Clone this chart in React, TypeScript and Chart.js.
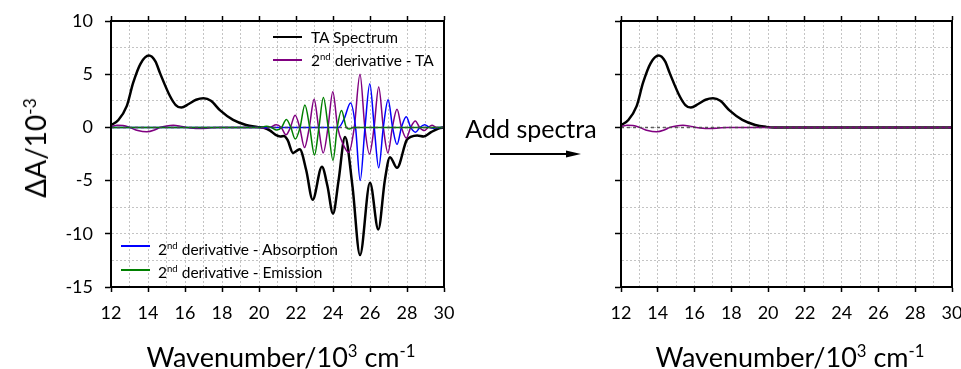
import React, { useEffect, useRef } from "react";
import { Chart, registerables } from "chart.js";

Chart.register(...registerables);

const FONT = "Lato, 'Open Sans', 'DejaVu Sans', sans-serif";

// ---- axes ----
const xMin = 12;
const xMax = 30;
const yMin = -15;
const yMax = 10;
const xTickLabels = [12, 14, 16, 18, 20, 22, 24, 26, 28, 30];
const yTickLabels = [-15, -10, -5, 0, 5, 10];

// ---- left panel: TA spectrum ----
const taX = [12.0, 12.4, 12.85, 13.2, 13.6, 14.05, 14.4, 14.65, 15.2, 15.5, 15.8, 16.2, 16.6, 17.0, 17.4, 17.9, 18.6, 19.3, 19.9, 20.3, 20.6, 20.9, 21.15, 21.35, 21.55, 21.84, 22.2, 22.55, 22.9, 23.4, 23.7, 24.0, 24.3, 24.65, 25.05, 25.46, 26.0, 26.45, 26.8, 27.08, 27.46, 27.98, 28.2, 28.55, 28.9, 29.3, 29.7, 30.0];
const taY = [0.2, 0.7, 2.0, 4.2, 6.0, 6.75, 6.2, 5.1, 2.9, 2.1, 1.86, 2.2, 2.6, 2.74, 2.5, 1.6, 0.7, 0.23, 0.05, -0.05, -0.3, -0.7, -0.85, -0.8, -1.2, -2.4, -2.05, -4.0, -6.8, -3.7, -5.5, -8.1, -5.0, -0.9, -5.5, -12.0, -5.2, -9.6, -5.0, -2.8, -3.8, -1.2, -0.9, -0.75, -0.85, -0.45, -0.1, 0.0];

// 2nd derivative of TA
const d2TaX = [12.0, 12.35, 12.65, 13.0, 13.45, 13.93, 14.35, 14.65, 15.0, 15.37, 15.75, 16.1, 16.7, 17.2, 17.8, 20.0, 20.3, 20.6, 20.93, 21.2, 21.46, 21.7, 21.95, 22.2, 22.46, 22.72, 22.98, 23.22, 23.47, 23.73, 23.99, 24.25, 24.55, 24.85, 25.15, 25.46, 25.72, 25.97, 26.22, 26.47, 26.72, 26.97, 27.21, 27.46, 27.7, 27.96, 28.2, 28.45, 28.68, 28.94, 29.15, 29.35, 29.6, 30];
const d2TaY = [0.1, 0.2, 0.17, 0, -0.3, -0.42, -0.25, 0, 0.14, 0.2, 0.12, 0, -0.1, -0.08, 0, 0, -0.05, 0, 0.25, 0, -0.7, 0, 1.15, 0, -1.9, 0, 2.65, 0, -2.4, 0, 3.35, 0, -1.6, -2.35, 0, 5.0, 0, -2.5, 0, 3.8, 0, -2.4, 0, 1.7, 0, -1.0, 0, 0.6, 0, -0.3, 0, 0.2, 0, 0];

// 2nd derivative of absorption
const d2AbsX = [12, 24.3, 24.6, 24.95, 25.22, 25.47, 25.73, 25.99, 26.23, 26.47, 26.72, 26.98, 27.22, 27.46, 27.7, 27.96, 28.2, 28.46, 28.7, 28.96, 29.2, 29.45, 29.7, 30];
const d2AbsY = [0, 0, 0.8, 2.3, 0, -5.0, 0, 4.1, 0, -3.8, 0, 2.6, 0, -1.6, 0, 1.0, 0, -0.45, 0, 0.25, 0, -0.08, 0, 0];

// 2nd derivative of emission
const d2EmX = [12, 20.0, 20.4, 20.65, 20.95, 21.22, 21.48, 21.72, 21.96, 22.22, 22.48, 22.74, 23.0, 23.24, 23.48, 23.74, 24.0, 24.23, 24.46, 24.72, 24.88, 25.1, 30];
const d2EmY = [0, 0, 0.1, 0, -0.25, 0, 0.75, 0, -1.1, 0, 2.1, 0, -2.6, 0, 2.8, 0, -3.1, 0, 1.6, 0, -0.15, 0, 0];

// ---- right panel: after adding spectra ----
const esaX = [12.0, 12.4, 12.85, 13.2, 13.6, 14.05, 14.4, 14.65, 15.2, 15.5, 15.8, 16.2, 16.6, 17.0, 17.4, 17.9, 18.6, 19.3, 19.9, 20.3, 30.0];
const esaY = [0.2, 0.7, 2.0, 4.2, 6.0, 6.75, 6.2, 5.1, 2.9, 2.1, 1.86, 2.2, 2.6, 2.74, 2.5, 1.6, 0.7, 0.23, 0.05, 0.0, 0.0];
const d2EsaX = [12.0, 12.35, 12.65, 13.0, 13.45, 13.93, 14.35, 14.65, 15.0, 15.37, 15.75, 16.1, 16.7, 17.2, 17.8, 30];
const d2EsaY = [0.1, 0.2, 0.17, 0, -0.3, -0.42, -0.25, 0, 0.14, 0.2, 0.12, 0, -0.1, -0.08, 0, 0];

const zeroX = [12, 30];
const zeroY = [0, 0];

const pts = (xs: number[], ys: number[]) => xs.map((x, i) => ({ x, y: ys[i] }));

const line = (label: string, xs: number[], ys: number[], color: string, width: number, dash: number[] = []) => ({
  label,
  data: pts(xs, ys),
  borderColor: color,
  backgroundColor: color,
  borderWidth: width,
  borderDash: dash,
  pointRadius: 0,
  fill: false,
  cubicInterpolationMode: "monotone" as const,
});

function makeOptions(yAxisWidth: number, rightPad: number, showYLabels: boolean) {
  const tickFont = { family: FONT, size: 18 };
  return {
    animation: false as const,
    responsive: false,
    devicePixelRatio: 1,
    layout: { padding: { top: 21, right: rightPad, left: 0, bottom: 0 } },
    plugins: { legend: { display: false }, tooltip: { enabled: false } },
    scales: {
      x: {
        type: "linear" as const,
        position: "bottom" as const,
        min: xMin,
        max: xMax,
        ticks: {
          stepSize: 1,
          autoSkip: false,
          maxRotation: 0,
          padding: 10,
          color: "#000",
          font: tickFont,
          callback: (v: any) => (xTickLabels.includes(Number(v)) ? String(v) : ""),
        },
        grid: {
          color: "#c4c4c4",
          lineWidth: 1,
          tickLength: 5,
          tickWidth: 1.5,
          tickColor: (c: any) => (c.tick && xTickLabels.includes(c.tick.value) ? "#000" : "rgba(0,0,0,0)"),
          tickBorderDash: [],
        },
        border: { display: true, color: "#000", width: 2, dash: [2, 2], z: 1 },
        afterFit: (s: any) => {
          s.height = 82;
          s.paddingLeft = 0;
          s.paddingRight = 0;
        },
      },
      x2: {
        type: "linear" as const,
        position: "top" as const,
        min: xMin,
        max: xMax,
        ticks: { stepSize: 1, display: false, autoSkip: false },
        grid: {
          drawOnChartArea: false,
          tickLength: 5,
          tickWidth: 1.5,
          tickColor: (c: any) => (c.tick && xTickLabels.includes(c.tick.value) ? "#000" : "rgba(0,0,0,0)"),
        },
        border: { display: true, color: "#000", width: 2, z: 1 },
        afterFit: (s: any) => {
          s.height = 0;
          s.paddingLeft = 0;
          s.paddingRight = 0;
        },
      },
      y: {
        type: "linear" as const,
        position: "left" as const,
        min: yMin,
        max: yMax,
        ticks: {
          stepSize: 2.5,
          autoSkip: false,
          padding: 12,
          display: showYLabels,
          color: "#000",
          font: tickFont,
          callback: (v: any) => (yTickLabels.includes(Number(v)) ? String(v) : ""),
        },
        grid: {
          color: "#c4c4c4",
          lineWidth: 1,
          tickLength: 6,
          tickWidth: 1.5,
          tickColor: (c: any) => (c.tick && yTickLabels.includes(c.tick.value) ? "#000" : "rgba(0,0,0,0)"),
          tickBorderDash: [],
        },
        border: { display: true, color: "#000", width: 2, dash: [2, 2], z: 1 },
        afterFit: (s: any) => {
          s.width = yAxisWidth;
          s.paddingTop = 0;
          s.paddingBottom = 0;
        },
      },
      y2: {
        type: "linear" as const,
        position: "right" as const,
        min: yMin,
        max: yMax,
        ticks: { display: false },
        grid: { drawOnChartArea: false, drawTicks: false },
        border: { display: true, color: "#000", width: 2, z: 1 },
        afterFit: (s: any) => {
          s.width = 0;
          s.paddingTop = 0;
          s.paddingBottom = 0;
        },
      },
    },
  };
}

function ChartCanvas({ width, height, datasets, options, style }: any) {
  const ref = useRef<HTMLCanvasElement | null>(null);
  useEffect(() => {
    if (!ref.current) return;
    const chart = new Chart(ref.current, {
      type: "line",
      data: { datasets },
      options,
    } as any);
    return () => chart.destroy();
  }, []);
  return <canvas ref={ref} width={width} height={height} style={{ display: "block", position: "absolute", ...style }} />;
}

const Sup = ({ children }: any) => (
  <span style={{ fontSize: "0.62em", position: "relative", top: "-0.6em" }}>{children}</span>
);

const Label = ({ x, y, size, center = true, children, rotate = false }: any) => (
  <div
    style={{
      position: "absolute",
      left: x,
      top: y,
      fontSize: size,
      lineHeight: 1,
      whiteSpace: "nowrap",
      color: "#000",
      fontFamily: FONT,
      transform: `translate(${center ? "-50%" : "0"}, -50%)${rotate ? " rotate(-90deg)" : ""}`,
      transformOrigin: center ? "center" : "left center",
    }}
  >
    {children}
  </div>
);

const Swatch = ({ x, y, w, h, color }: any) => (
  <div style={{ position: "absolute", left: x, top: y, width: w, height: h, background: color }} />
);

export default function App() {
  const leftSets = [
    line("zero", zeroX, zeroY, "rgba(70,70,70,0.85)", 1.5, [3, 3]),
    line("2nd derivative - Emission", d2EmX, d2EmY, "#008000", 1.5),
    line("2nd derivative - Absorption", d2AbsX, d2AbsY, "#0000ff", 1.5),
    line("2nd derivative - TA", d2TaX, d2TaY, "#800080", 1.5),
    line("TA Spectrum", taX, taY, "#000000", 2.5),
  ];
  const rightSets = [
    line("zero", zeroX, zeroY, "rgba(70,70,70,0.85)", 1.5, [3, 3]),
    line("2nd derivative - TA", d2EsaX, d2EsaY, "#800080", 1.5),
    line("TA Spectrum", esaX, esaY, "#000000", 2.5),
  ];

  return (
    <div style={{ position: "fixed", left: 0, top: 0, width: 961, height: 369, background: "#fff", overflow: "hidden", fontFamily: FONT }}>
      <ChartCanvas width={455} height={369} datasets={leftSets} options={makeOptions(111, 11, true)} style={{ left: 0, top: 0 }} />
      <ChartCanvas width={421} height={369} datasets={rightSets} options={makeOptions(81, 9, false)} style={{ left: 540, top: 0 }} />

      {/* y-axis title */}
      <Label x={35} y={148} size={28} rotate>
        ΔA/10<Sup>-3</Sup>
      </Label>

      {/* x-axis titles */}
      <Label x={281} y={356} size={27}>
        Wavenumber/10<Sup>3</Sup> cm<Sup>-1</Sup>
      </Label>
      <Label x={790} y={356} size={27}>
        Wavenumber/10<Sup>3</Sup> cm<Sup>-1</Sup>
      </Label>

      {/* top legend */}
      <Swatch x={273} y={36} w={29} h={2} color="#000" />
      <Label x={311} y={38} size={15.5} center={false}>TA Spectrum</Label>
      <Swatch x={273} y={59} w={29} h={2} color="#800080" />
      <Label x={311} y={61} size={15.5} center={false}>
        2<Sup>nd</Sup> derivative - TA
      </Label>

      {/* bottom legend */}
      <Swatch x={121} y={245} w={29} h={2} color="#0000ff" />
      <Label x={158} y={250} size={15.5} center={false}>
        2<Sup>nd</Sup> derivative - Absorption
      </Label>
      <Swatch x={121} y={269} w={29} h={2} color="#008000" />
      <Label x={158} y={273} size={15.5} center={false}>
        2<Sup>nd</Sup> derivative - Emission
      </Label>

      {/* middle annotation */}
      <Label x={531} y={128} size={25}>Add spectra</Label>
      <svg style={{ position: "absolute", left: 488, top: 147 }} width={96} height={14}>
        <line x1={2} y1={7} x2={82} y2={7} stroke="#000" strokeWidth={2} />
        <polygon points="78,3.5 93,7 78,10.5" fill="#000" />
      </svg>
    </div>
  );
}
